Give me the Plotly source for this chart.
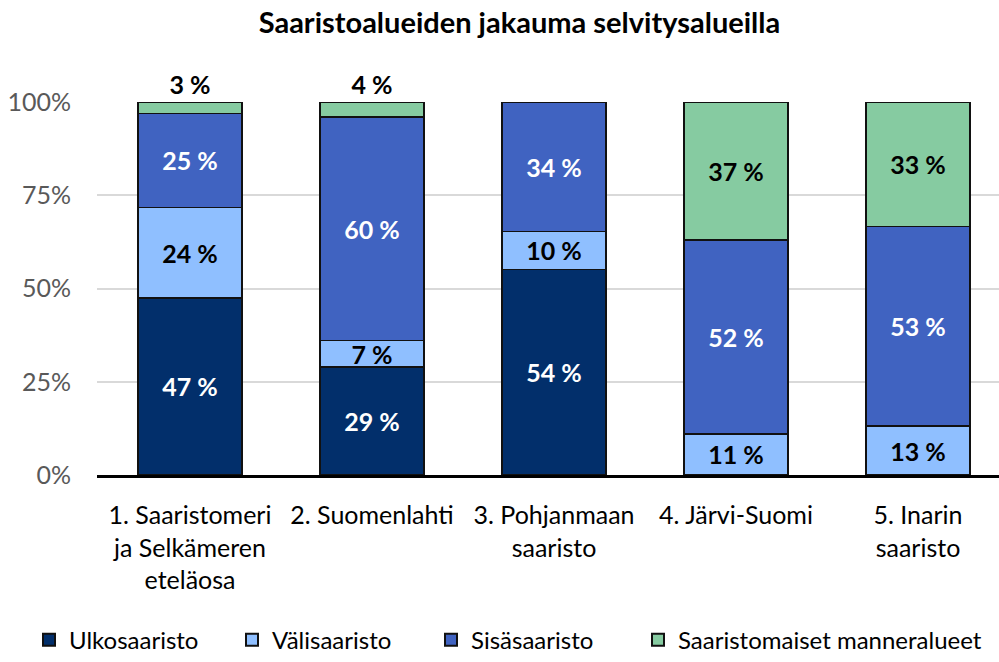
import plotly.graph_objects as go

categories = ["1. Saaristomeri<br>ja Selkämeren<br>eteläosa", "2. Suomenlahti",
              "3. Pohjanmaan<br>saaristo", "4. Järvi-Suomi", "5. Inarin<br>saaristo"]
ulko = [47, 29, 54, 0, 0]
vali = [24, 7, 10, 11, 13]
sisa = [25, 60, 34, 52, 53]
mann = [3, 4, 0, 37, 33]
series_names = ["Ulkosaaristo", "Välisaaristo", "Sisäsaaristo", "Saaristomaiset manneralueet"]
y_ticks = [0, 25, 50, 75, 100]

colors = ["#022F6B", "#8FBFFF", "#4063C1", "#86CBA1"]
text_colors = ["white", "black", "white", "black"]
legend_ids = ["legend", "legend2", "legend3", "legend4"]
legend_x = [29, 232, 431, 638]
FONT = "Lato"
LBL = 25

fig = go.Figure()
for name, vals, col, tcol, lid in zip(series_names, [ulko, vali, sisa, mann], colors, text_colors, legend_ids):
    texts = [f"<b>{v} %</b>" if v > 0 else "" for v in vals]
    if name == series_names[3]:
        pos = ["outside" if 0 < v < 6 else "inside" for v in vals]
        tfont = [("black" if 0 < v < 6 else tcol) for v in vals]
    else:
        pos = ["inside"] * len(vals)
        tfont = [tcol] * len(vals)
    fig.add_trace(go.Bar(
        x=categories, y=vals, name=name, legend=lid,
        marker=dict(color=col, line=dict(color="#111111", width=1.5)),
        text=texts, textposition=pos, textangle=0,
        insidetextanchor="middle",
        textfont=dict(family=FONT, size=LBL, color=tfont),
        outsidetextfont=dict(family=FONT, size=LBL, color="black"),
        cliponaxis=False, hoverinfo="skip",
    ))

legends = {}
for lid, lx in zip(legend_ids, legend_x):
    legends[lid] = dict(orientation="h", xref="container", yref="container",
                        x=lx / 999, xanchor="left", y=0.033, yanchor="middle",
                        font=dict(family=FONT, size=24, color="black"),
                        bgcolor="rgba(0,0,0,0)", itemsizing="constant")

fig.update_layout(
    width=999, height=662,
    barmode="stack", barnorm="percent", bargap=0.43,
    plot_bgcolor="white", paper_bgcolor="white",
    margin=dict(l=97, r=0, t=102, b=187),
    font=dict(family=FONT, size=24, color="black"),
    title=dict(text="<b>Saaristoalueiden jakauma selvitysalueilla</b>",
               x=0.52, xanchor="center", y=0.965, yanchor="middle",
               font=dict(family=FONT, size=29, color="black")),
    uniformtext=dict(minsize=LBL, mode="show"),
    showlegend=True,
    **legends,
)
fig.update_yaxes(range=[0, 100], tickvals=y_ticks, ticktext=[f"{t}%" for t in y_ticks],
                 showgrid=True, gridcolor="#D9D9D9", gridwidth=1.5, zeroline=False,
                 tickfont=dict(family=FONT, size=25, color="#595959"),
                 ticklabelstandoff=25, showline=False)
fig.update_xaxes(range=[-0.511, 4.445], showline=True, linecolor="black", linewidth=3,
                 tickfont=dict(family=FONT, size=25, color="black"),
                 ticklabelstandoff=16, showgrid=False)

fig.write_html("out.html")
